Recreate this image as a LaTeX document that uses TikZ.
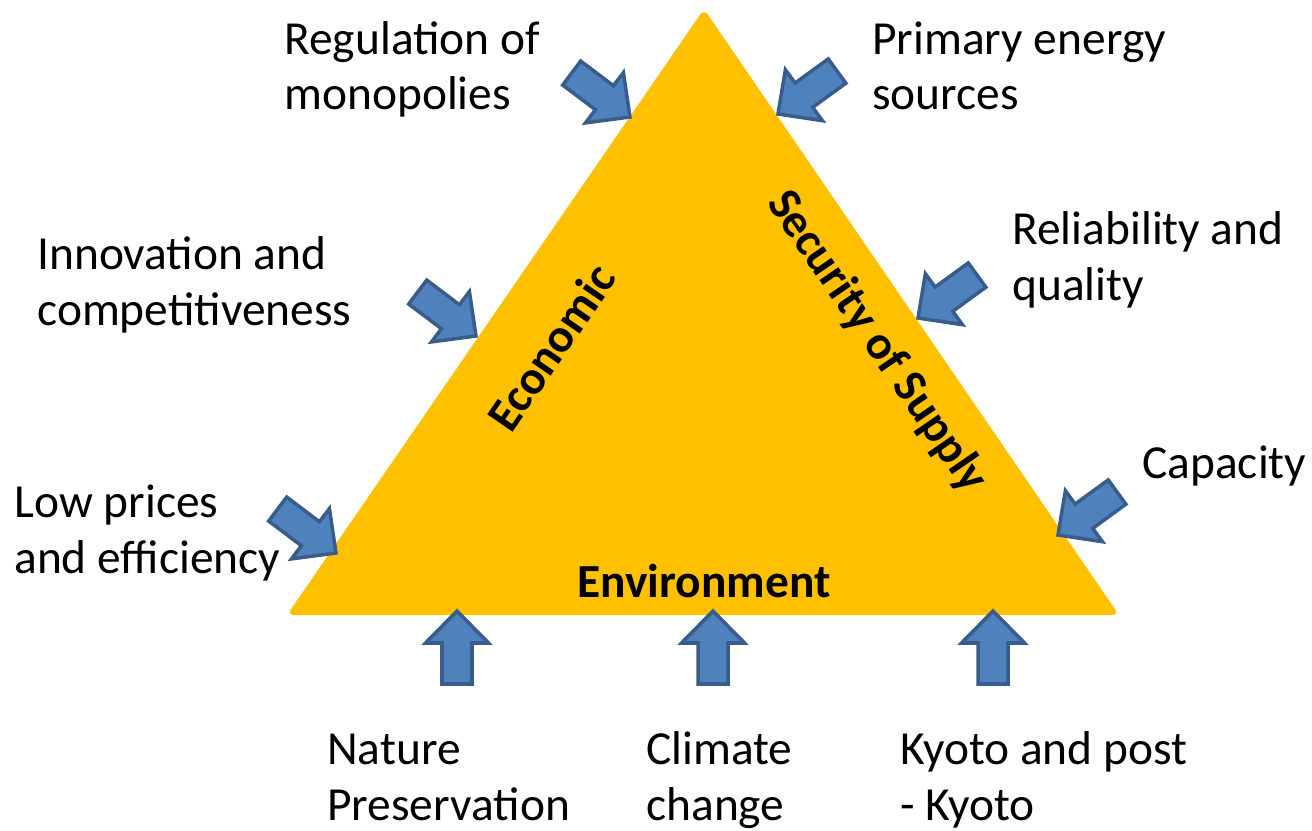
\documentclass[tikz,border=0pt]{standalone}
\usepackage{fontspec}
\setmainfont{Carlito}
\definecolor{gold}{HTML}{FFC000}
\definecolor{arrowfill}{HTML}{4F81BD}
\definecolor{arrowline}{HTML}{385D8A}
\begin{document}
\begin{tikzpicture}[x=0.02cm,y=-0.02cm,
  lbl/.style={align=left, anchor=base west, inner sep=0pt,
    font=\fontsize{27}{31.75}\selectfont},
  side/.style={inner sep=0pt, font=\fontsize{27}{32}\selectfont\bfseries},
  barrow/.pic={\draw[fill=arrowfill, draw=arrowline, line width=2pt, line join=miter]
    (0,0) -- (-32,31.5) -- (-32,15) -- (-73,15) -- (-73,-15) -- (-32,-15) -- (-32,-31.5) -- cycle;}]
\useasboundingbox (0,0) rectangle (1312,831);

% the triangle
\coordinate (top) at (704,9);
\coordinate (br) at (1119,615);
\coordinate (bl) at (287,615);
\fill[gold, rounded corners=4] (top) -- (br) -- (bl) -- cycle;

% side labels
\node[side, rotate=55.5] (eco) at (551,347) {Economic};
\node[side, rotate=-55.5] (sec) at (877,342) {Security of Supply};
\node[side, anchor=base] (env) at (704,597) {Environment};

% arrows pointing at the triangle
\pic[rotate=-37] at (630,117) {barrow};
\pic[rotate=-144] at (778,114) {barrow};
\pic[rotate=-37] at (476,336) {barrow};
\pic[rotate=-144] at (918,318) {barrow};
\pic[rotate=-37] at (336,553) {barrow};
\pic[rotate=-144] at (1058,535) {barrow};
\pic[rotate=90] at (457,611) {barrow};
\pic[rotate=90] at (713,611) {barrow};
\pic[rotate=90] at (993,611) {barrow};

% influencing factors (anchored at the baseline of the last line)
\node[lbl] (reg) at (284,110) {Regulation of\\monopolies};
\node[lbl] (pri) at (872,110) {Primary energy\\sources};
\node[lbl] (inn) at (37,325) {Innovation and\\competitiveness};
\node[lbl] (rel) at (1012,300) {Reliability and\\quality};
\node[lbl] (cap) at (1142,478) {Capacity};
\node[lbl] (low) at (14,573) {Low prices\\and efficiency};
\node[lbl] (nat) at (327,820) {Nature\\Preservation};
\node[lbl] (cli) at (646,820) {Climate\\change};
\node[lbl] (kyo) at (900,820) {Kyoto and post\\- Kyoto};
\end{tikzpicture}
\end{document}
